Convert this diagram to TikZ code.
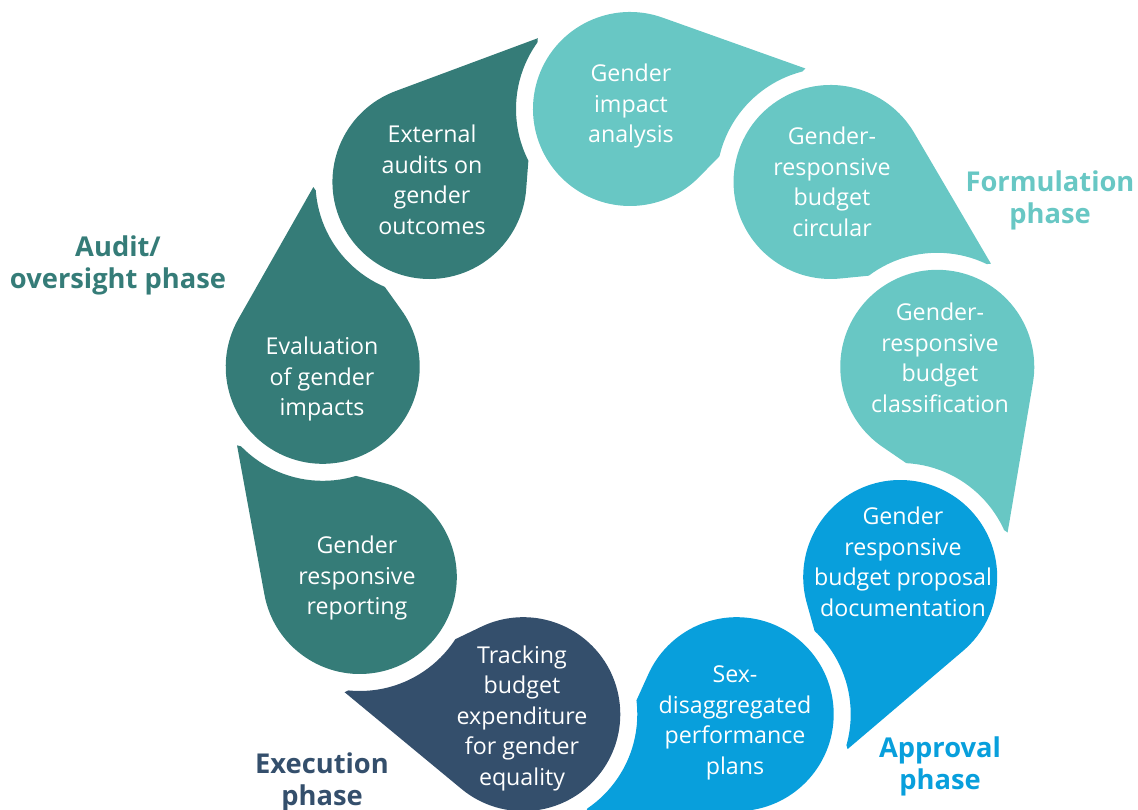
\documentclass[tikz,border=0pt]{standalone}
\usepackage{fontspec}
\setmainfont{Open Sans}
\usepackage{tikz}
\usetikzlibrary{calc}
\definecolor{tealL}{HTML}{68C7C4}
\definecolor{tealD}{HTML}{357C78}
\definecolor{blueM}{HTML}{089FDC}
\definecolor{navyD}{HTML}{344F6C}

\begin{document}
\begin{tikzpicture}[x=1pt,y=1pt,
	steptext/.style={text=white,align=center,font=\fontsize{23.2}{30.5}\selectfont},
	phaselabel/.style={align=center,font=\bfseries\fontsize{27.3}{32}\selectfont}]
			\useasboundingbox (0,0) rectangle (1138,810);
			\clip (0,0) rectangle (1138,810);
			\coordinate (ring) at (630,389);
			% drops, clockwise, each tail cut by a white ring round the next drop
			\foreach \ang/\col [count=\i] in {90/tealL,50/tealL,10/tealL,-30/blueM,-70/blueM,-110/navyD,-150/tealD,170/tealD,130/tealD}{
				\coordinate (c\i) at ($(ring)+(\ang:312)$);
				\begin{scope}[even odd rule]
					\clip ($(ring)+(\ang-40:312)$) circle (114) (-200,-200) rectangle (1300,1000);
					\fill[\col] ($(c\i)+(\ang-19.6:97)$) arc[start angle=\ang-19.6,end angle=\ang+225.6,radius=97] -- ($(c\i)+(\ang-77:180)$) -- cycle;
				\end{scope}
			}
			\node[steptext] (impact) at (631,704) {Gender\\impact\\analysis};
			\node[steptext] (circular) at (832,628) {Gender-\\responsive\\budget\\circular};
			\node[steptext] (classif) at (940,452) {Gender-\\responsive\\budget\\classification};
			\node[steptext] (proposal) at (903,248) {Gender\\responsive\\budget proposal\\documentation};
			\node[steptext] (perf) at (735,87) {Sex-\\disaggregated\\performance\\plans};
			\node[steptext] (tracking) at (522,92) {Tracking\\budget\\expenditure\\for gender\\equality};
			\node[steptext] (reporting) at (357,232) {Gender\\responsive\\reporting};
			\node[steptext] (evaluation) at (322,431) {Evaluation\\of gender\\impacts};
			\node[steptext] (audits) at (432,630) {External\\audits on\\gender\\outcomes};
			\node[phaselabel,text=tealL] (formulation) at (1050,610) {Formulation\\phase};
			\node[phaselabel,text=blueM] (approval) at (940,44) {Approval\\phase};
			\node[phaselabel,text=navyD] (execution) at (322,28) {Execution\\phase};
			\node[phaselabel,text=tealD] (oversight) at (118,545) {Audit/\\oversight phase};
\end{tikzpicture}
\end{document}
